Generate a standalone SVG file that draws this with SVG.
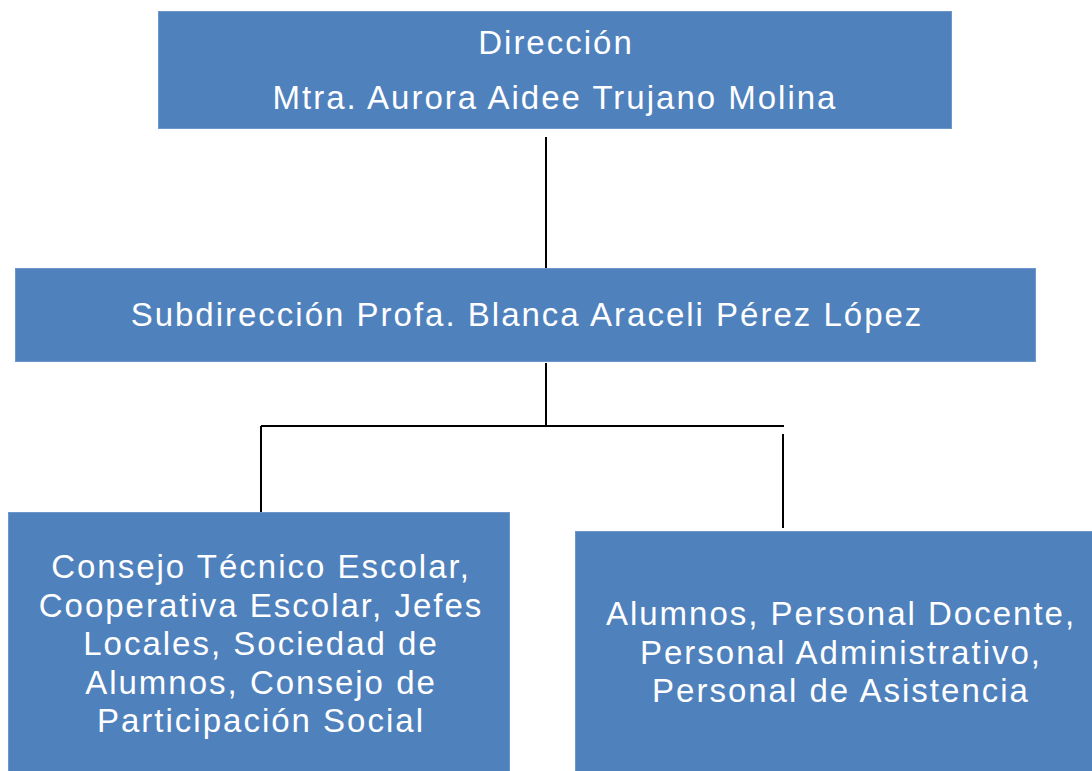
<svg xmlns="http://www.w3.org/2000/svg" width="1092" height="771" viewBox="0 0 1092 771">
<style>
.box{fill:#4F81BD;stroke:#6d97cc;stroke-width:1}
.t{fill:#ffffff;font-family:"Liberation Sans",Arial,sans-serif;font-size:33px;letter-spacing:2px;text-anchor:middle}
.c{stroke:#000;stroke-width:2;fill:none}
</style>
<rect width="1092" height="771" fill="#ffffff"/>
<g id="connectors">
<line class="c" x1="546" y1="137" x2="546" y2="268"/>
<line class="c" x1="546" y1="363" x2="546" y2="426"/>
<line class="c" x1="261" y1="426" x2="784" y2="426"/>
<line class="c" x1="261" y1="426" x2="261" y2="512"/>
<line class="c" x1="783" y1="434" x2="783" y2="528"/>
</g>
<g id="direccion">
<rect class="box" x="158.5" y="11.5" width="793" height="117"/>
<text class="t" x="556" y="54">Dirección</text>
<text class="t" x="555" y="109">Mtra. Aurora Aidee Trujano Molina</text>
</g>
<g id="subdireccion">
<rect class="box" x="15.5" y="268.5" width="1020" height="93"/>
<text class="t" x="527" y="326">Subdirección Profa. Blanca Araceli Pérez López</text>
</g>
<g id="consejo">
<rect class="box" x="8.5" y="512.5" width="501" height="270"/>
<text class="t" x="261" y="578">Consejo Técnico Escolar,</text>
<text class="t" x="261" y="617">Cooperativa Escolar, Jefes</text>
<text class="t" x="261" y="655">Locales, Sociedad de</text>
<text class="t" x="261" y="694">Alumnos, Consejo de</text>
<text class="t" x="261" y="732">Participación Social</text>
</g>
<g id="alumnos">
<rect class="box" x="575.5" y="531.5" width="530" height="250"/>
<text class="t" x="841" y="625">Alumnos, Personal Docente,</text>
<text class="t" x="841" y="664">Personal Administrativo,</text>
<text class="t" x="841" y="702">Personal de Asistencia</text>
</g>
</svg>
